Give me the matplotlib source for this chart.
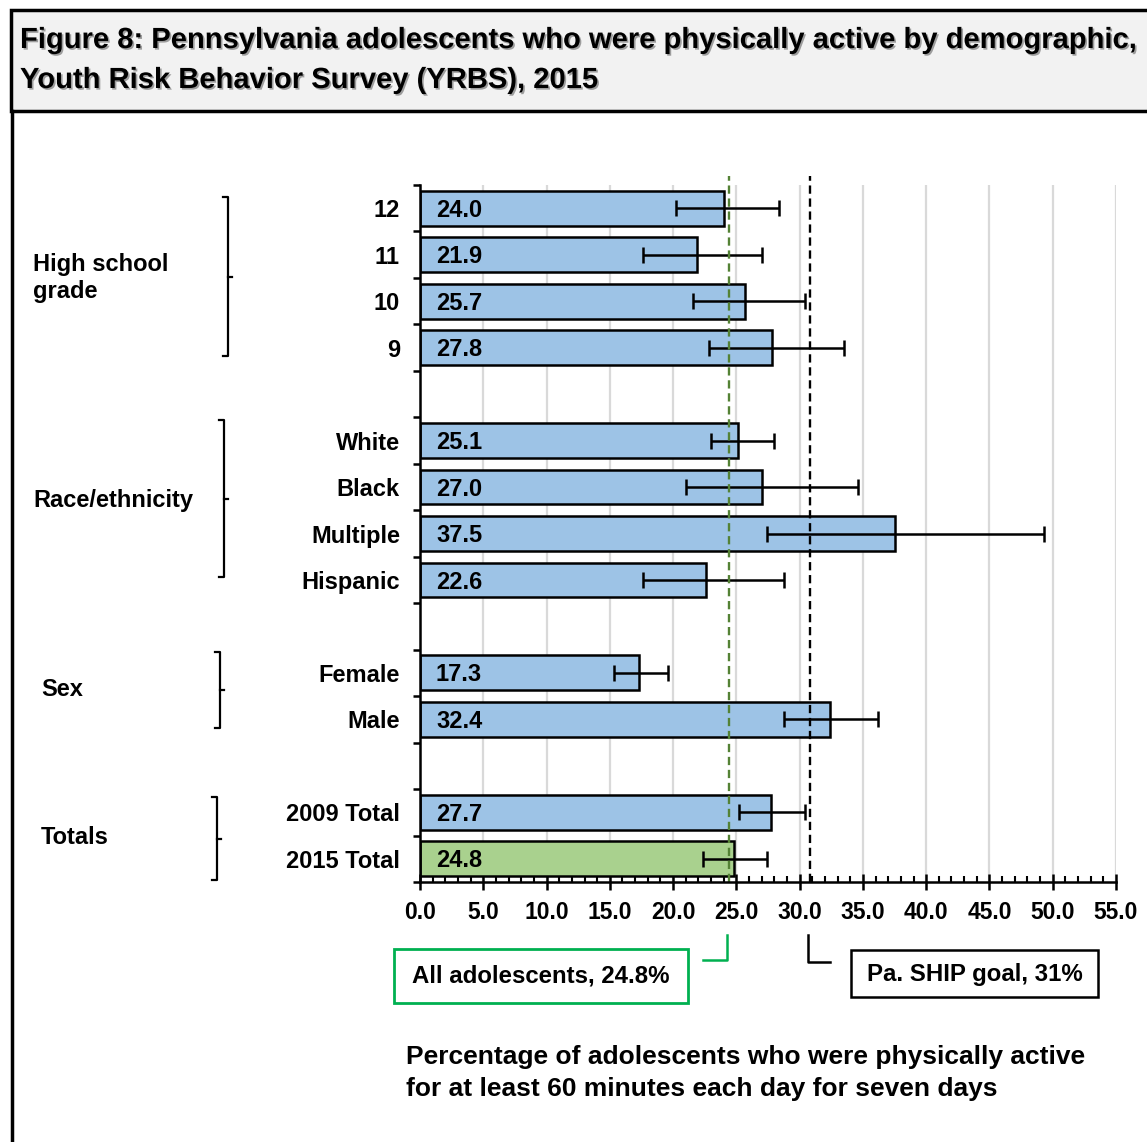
import matplotlib
matplotlib.use("Agg")
import matplotlib.pyplot as plt
import matplotlib.patheffects as pe
from matplotlib.lines import Line2D
from matplotlib.patches import Rectangle

plt.rcParams['font.family'] = ['Liberation Sans', 'DejaVu Sans']
plt.rcParams['font.weight'] = 'bold'

# values (top to bottom)
labels = ['12', '11', '10', '9', 'White', 'Black', 'Multiple', 'Hispanic',
          'Female', 'Male', '2009 Total', '2015 Total']
values = [24.0, 21.9, 25.7, 27.8, 25.1, 27.0, 37.5, 22.6, 17.3, 32.4, 27.7, 24.8]
ci_low = [20.2, 17.6, 21.6, 22.8, 23.0, 21.0, 27.4, 17.6, 15.3, 28.8, 25.2, 22.4]
ci_high = [28.4, 27.0, 30.4, 33.5, 28.0, 34.6, 49.3, 28.8, 19.6, 36.2, 30.4, 27.4]
slots = [0, 1, 2, 3, 5, 6, 7, 8, 10, 11, 13, 14]   # gaps between the groups
groups = ['High school\ngrade', 'Race/ethnicity', 'Sex', 'Totals']
all_adolescents = 24.4   # green dashed line, as drawn
ship_goal = 30.8         # black dashed line, as drawn
xticks = [0, 5, 10, 15, 20, 25, 30, 35, 40, 45, 50, 55]

W, H = 1147, 1142
fig = plt.figure(figsize=(W / 100, H / 100), dpi=100)


def fx(px):
    return px / W


def fy(py):
    return 1 - py / H


# frame and title box
fig.add_artist(Rectangle((fx(11), fy(111)), fx(1150) - fx(11), fy(10) - fy(111),
                         transform=fig.transFigure, facecolor='#f2f2f2',
                         edgecolor='black', lw=2.5))
fig.add_artist(Line2D([fx(12), fx(12)], [fy(111), fy(1145)], transform=fig.transFigure,
                      color='black', lw=2.5))
shadow = [pe.SimplePatchShadow(offset=(1.2, -1.2), alpha=0.35), pe.Normal()]
fig.text(fx(20), fy(40), 'Figure 8: Pennsylvania adolescents who were physically active by demographic,',
         fontsize=21, ha='left', va='center', path_effects=shadow)
fig.text(fx(20), fy(80), 'Youth Risk Behavior Survey (YRBS), 2015',
         fontsize=21, ha='left', va='center', path_effects=shadow)

ax = fig.add_axes([fx(420), fy(882), fx(1116) - fx(420), fy(185) - fy(882)])

colors = ['#9dc3e6'] * (len(values) - 1) + ['#a9d18e']
ax.barh(slots, values, height=0.75, color=colors, edgecolor='black', lw=1.8, zorder=3)
xerr = [[v - lo for v, lo in zip(values, ci_low)], [hi - v for v, hi in zip(values, ci_high)]]
ax.errorbar(values, slots, xerr=xerr, fmt='none', ecolor='black', elinewidth=1.8,
            capsize=6, capthick=1.8, zorder=4)
for s, v in zip(slots, values):
    ax.annotate(f'{v:.1f}', (0, s), xytext=(11.5, -1.5), textcoords='offset points',
                ha='left', va='center', fontsize=17, zorder=5)

ax.plot([all_adolescents, all_adolescents], [14.5, -0.7], color='#548235', lw=1.7,
        ls=(0, (3.5, 2)), clip_on=False, zorder=6)
ax.plot([ship_goal, ship_goal], [14.5, -0.7], color='black', lw=1.7,
        ls=(0, (3.5, 2)), clip_on=False, zorder=6)

ax.set_xlim(0, 55)
ax.set_ylim(14.5, -0.5)
ax.set_xticks(xticks)
ax.set_xticklabels([f'{t:.1f}' for t in xticks], fontsize=16.5)
ax.set_xticks(range(0, 56), minor=True)
ax.tick_params(axis='x', which='major', direction='inout', length=11, width=1.8, pad=8)
ax.tick_params(axis='x', which='minor', direction='in', length=4, width=1.5)
ax.set_yticks(slots)
ax.set_yticklabels(labels, fontsize=17)
ax.set_yticks([i - 0.5 for i in range(16)], minor=True)
ax.tick_params(axis='y', which='major', length=0, pad=14.4)
ax.tick_params(axis='y', which='minor', direction='out', length=5, width=1.8)
ax.grid(axis='x', color='#d9d9d9', lw=1.6, zorder=0)
ax.set_axisbelow(True)
for side in ['top', 'right']:
    ax.spines[side].set_visible(False)
for side in ['left', 'bottom']:
    ax.spines[side].set_linewidth(1.8)
    ax.spines[side].set_zorder(7)

# group labels and brackets
group_pos = [(33, 278), (33, 500), (41, 690), (41, 837)]
brackets = [(228, 197, 356), (224, 420, 577), (220, 652, 728), (217, 797, 880)]
for name, (gx, gy) in zip(groups, group_pos):
    fig.text(fx(gx), fy(gy), name, fontsize=17, ha='left', va='center', linespacing=1.2)
for bx, top, bot in brackets:
    mid = (top + bot) / 2
    fig.add_artist(Line2D([fx(bx - 5), fx(bx), fx(bx), fx(bx - 5)],
                          [fy(top), fy(top), fy(bot), fy(bot)],
                          transform=fig.transFigure, color='black', lw=1.6))
    fig.add_artist(Line2D([fx(bx), fx(bx + 4)], [fy(mid), fy(mid)],
                          transform=fig.transFigure, color='black', lw=1.6))

# reference line callouts
green = '#00b050'
fig.add_artist(Line2D([fx(703), fx(727), fx(727)], [fy(960), fy(960), fy(935)],
                      transform=fig.transFigure, color=green, lw=1.8))
fig.add_artist(Rectangle((fx(394), fy(1003)), fx(688) - fx(394), fy(949) - fy(1003),
                         transform=fig.transFigure, facecolor='white', edgecolor=green, lw=2))
fig.text(fx(541), fy(976), 'All adolescents, 24.8%', fontsize=17.3, ha='center', va='center')

fig.add_artist(Line2D([fx(808), fx(808), fx(830)], [fy(935), fy(962), fy(962)],
                      transform=fig.transFigure, color='black', lw=1.8))
fig.add_artist(Rectangle((fx(851), fy(997)), fx(1098) - fx(851), fy(950) - fy(997),
                         transform=fig.transFigure, facecolor='white', edgecolor='black', lw=1.8))
fig.text(fx(975), fy(974), 'Pa. SHIP goal, 31%', fontsize=17.3, ha='center', va='center')

fig.text(fx(406), fy(1073), 'Percentage of adolescents who were physically active\n'
         'for at least 60 minutes each day for seven days',
         fontsize=19, ha='left', va='center', linespacing=1.42)

fig.savefig('out.png', dpi=100)
